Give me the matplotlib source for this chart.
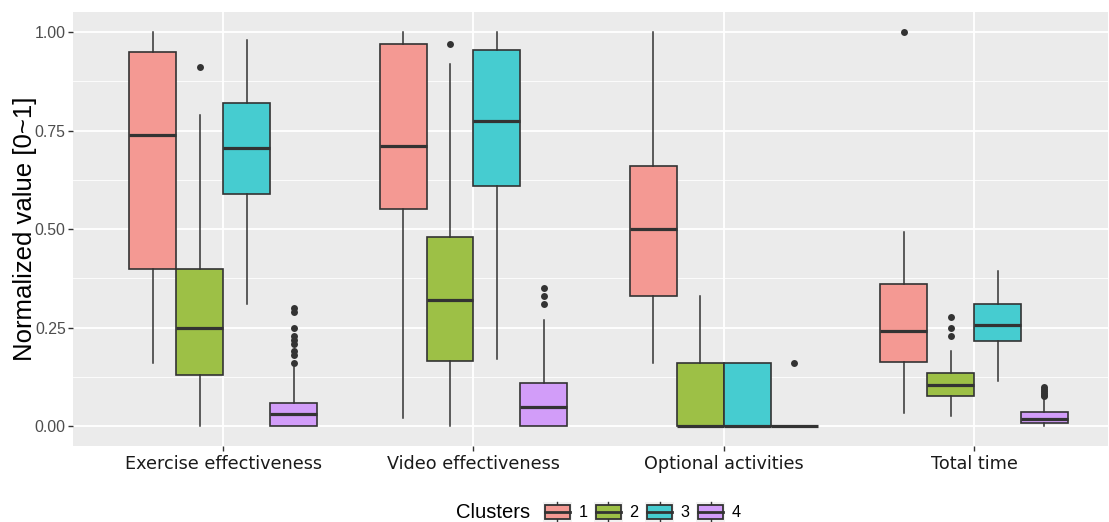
import matplotlib
matplotlib.use("Agg")
import matplotlib.pyplot as plt
from matplotlib.legend_handler import HandlerBase
from matplotlib.patches import Rectangle
from matplotlib.lines import Line2D
from matplotlib.ticker import FixedLocator

categories = ["Exercise effectiveness", "Video effectiveness", "Optional activities", "Total time"]
clusters = ["1", "2", "3", "4"]
cluster_colors = ["#F49993", "#9DC046", "#46CCD0", "#D29DF9"]

# per-cluster box statistics, one value per category
c1_whislo = [0.16, 0.02, 0.16, 0.034]
c1_q1 = [0.40, 0.55, 0.33, 0.163]
c1_med = [0.74, 0.71, 0.50, 0.242]
c1_q3 = [0.95, 0.97, 0.66, 0.361]
c1_whishi = [1.00, 1.00, 1.00, 0.494]
c1_fliers = [[], [], [], [1.00]]

c2_whislo = [0.0, 0.0, 0.0, 0.027]
c2_q1 = [0.13, 0.165, 0.0, 0.078]
c2_med = [0.25, 0.32, 0.0, 0.105]
c2_q3 = [0.40, 0.48, 0.16, 0.134]
c2_whishi = [0.79, 0.92, 0.33, 0.19]
c2_fliers = [[0.91], [0.97], [], [0.276, 0.249, 0.228]]

c3_whislo = [0.31, 0.17, 0.0, 0.116]
c3_q1 = [0.59, 0.61, 0.0, 0.216]
c3_med = [0.705, 0.775, 0.0, 0.256]
c3_q3 = [0.82, 0.955, 0.16, 0.309]
c3_whishi = [0.98, 1.00, 0.16, 0.395]
c3_fliers = [[], [], [], []]

c4_whislo = [0.0, 0.0, 0.0, 0.0]
c4_q1 = [0.0, 0.0, 0.0, 0.009]
c4_med = [0.03, 0.05, 0.0, 0.018]
c4_q3 = [0.06, 0.11, 0.0, 0.037]
c4_whishi = [0.15, 0.27, 0.0, 0.074]
c4_fliers = [[0.30, 0.29, 0.25, 0.23, 0.218, 0.209, 0.192, 0.182, 0.16],
             [0.35, 0.33, 0.31],
             [0.16],
             [0.10, 0.095, 0.09, 0.085, 0.08, 0.077]]

y_ticks = [0.0, 0.25, 0.5, 0.75, 1.0]
y_ticklabels = ["0.00", "0.25", "0.50", "0.75", "1.00"]

all_stats = [
    (c1_whislo, c1_q1, c1_med, c1_q3, c1_whishi, c1_fliers),
    (c2_whislo, c2_q1, c2_med, c2_q3, c2_whishi, c2_fliers),
    (c3_whislo, c3_q1, c3_med, c3_q3, c3_whishi, c3_fliers),
    (c4_whislo, c4_q1, c4_med, c4_q3, c4_whishi, c4_fliers),
]

W, H = 1109, 522
fig = plt.figure(figsize=(W / 100, H / 100), dpi=100)
ax = fig.add_axes([73 / W, 1 - 446 / H, (1108 - 73) / W, (446 - 12.3) / H])
ax.set_facecolor("#EBEBEB")
for s in ax.spines.values():
    s.set_visible(False)

dark = "#333333"
n = len(clusters)
dodge = 0.75
bw = dodge / n
for ci, (wl, q1, md, q3, wh, fl) in enumerate(all_stats):
    stats = []
    positions = []
    for k in range(len(categories)):
        stats.append(dict(whislo=wl[k], q1=q1[k], med=md[k], q3=q3[k], whishi=wh[k], fliers=fl[k]))
        positions.append(k + 1 - dodge / 2 + bw * (ci + 0.5))
    ax.bxp(stats, positions=positions, widths=bw, patch_artist=True, showcaps=False,
           boxprops=dict(facecolor=cluster_colors[ci], edgecolor=dark, linewidth=1.2),
           medianprops=dict(color=dark, linewidth=2.3, solid_capstyle="butt"),
           whiskerprops=dict(color=dark, linewidth=1.1),
           flierprops=dict(marker="o", markerfacecolor=dark, markeredgecolor="none", markersize=5),
           zorder=3)

ax.set_xlim(0.4, 4.535)
ax.set_ylim(-0.05, 1.05)
ax.set_xticks(range(1, len(categories) + 1))
ax.set_xticklabels(categories, fontfamily="DejaVu Sans", fontsize=12.7, color="#1A1A1A")
ax.yaxis.set_major_locator(FixedLocator(y_ticks))
ax.set_yticklabels(y_ticklabels, fontfamily="Liberation Sans", fontsize=11.4, color="#4D4D4D")
ax.yaxis.set_minor_locator(FixedLocator([0.125, 0.375, 0.625, 0.875]))
ax.tick_params(axis="both", which="major", length=3.8, width=1, color=dark)
ax.tick_params(axis="y", which="major", pad=1.5)
ax.tick_params(axis="x", which="major", pad=3)
ax.tick_params(axis="y", which="minor", length=0)
ax.grid(True, which="major", color="white", linewidth=1.3, zorder=0)
ax.grid(True, which="minor", axis="y", color="white", linewidth=0.6, zorder=0)
ax.set_axisbelow(True)

ax.set_ylabel("Normalized value [0~1]", fontfamily="Liberation Sans", fontsize=18.5, color="black")
ax.yaxis.set_label_coords((37 - 73) / (1108 - 73), 0.5)


class BoxHandler(HandlerBase):
    def __init__(self, color):
        super().__init__()
        self.color = color

    def create_artists(self, legend, orig_handle, xdescent, ydescent, width, height, fontsize, trans):
        x0 = -xdescent
        y0 = -ydescent
        bg = Rectangle((x0, y0), width, height, facecolor="#F2F2F2", edgecolor="none", transform=trans)
        bwid = width * 0.87
        bh = height * 0.75
        bx = x0 + (width - bwid) / 2
        by = y0 + (height - bh) / 2
        rect = Rectangle((bx, by), bwid, bh, facecolor=self.color, edgecolor=dark, linewidth=1.3, transform=trans)
        cx = x0 + width / 2
        med = Line2D([bx, bx + bwid], [by + bh / 2] * 2, color=dark, linewidth=2.0, transform=trans)
        w1 = Line2D([cx, cx], [by + bh, y0 + height], color=dark, linewidth=1.0, transform=trans)
        w2 = Line2D([cx, cx], [y0, by], color=dark, linewidth=1.0, transform=trans)
        return [bg, w1, w2, rect, med]


handles = [Rectangle((0, 0), 1, 1, facecolor=c) for c in cluster_colors]
handler_map = {h: BoxHandler(c) for h, c in zip(handles, cluster_colors)}
leg = fig.legend(handles, clusters, loc="center left", bbox_to_anchor=(543 / W, 1 - 512 / H),
                 ncol=4, frameon=False, handler_map=handler_map,
                 handlelength=1.77, handleheight=1.48, handletextpad=0.4, columnspacing=0.42,
                 borderpad=0, borderaxespad=0,
                 prop=dict(family="Liberation Sans", size=11.7))
fig.text(456 / W, 1 - 512 / H, "Clusters", fontfamily="Liberation Sans", fontsize=14.6,
         ha="left", va="center", color="black")

fig.savefig("out.png", dpi=100)
